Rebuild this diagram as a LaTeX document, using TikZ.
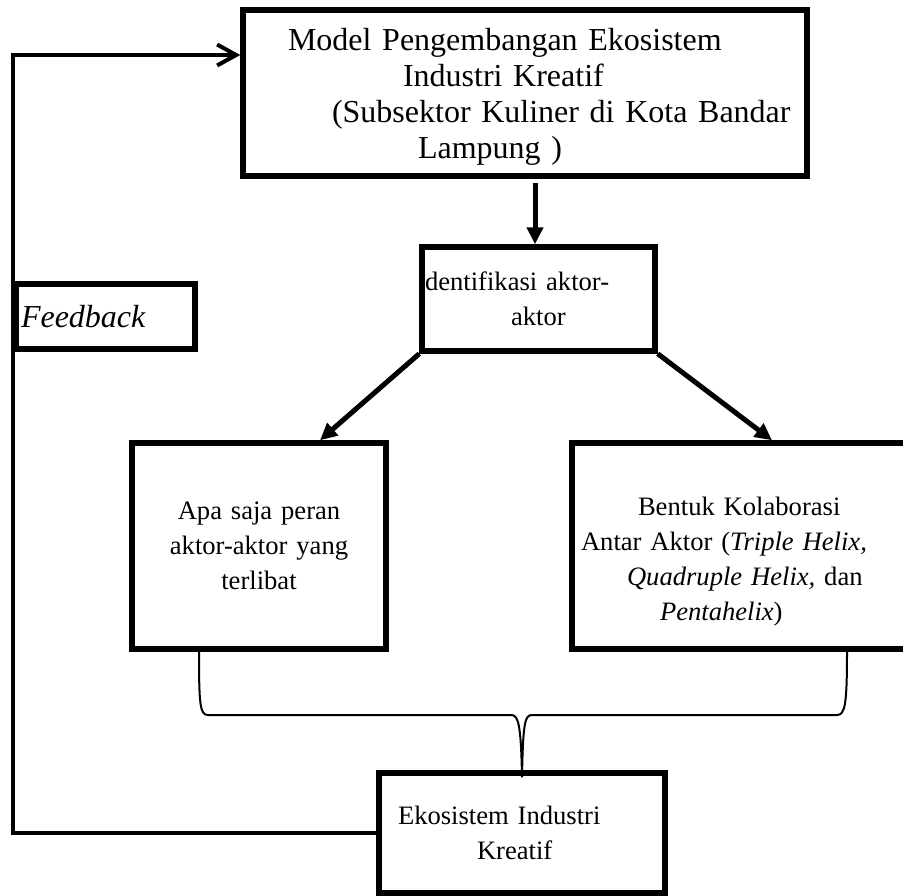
\documentclass[tikz,border=0pt]{standalone}
\usepackage{fontspec}
\setmainfont{Liberation Serif}
\usetikzlibrary{arrows,arrows.meta,positioning,calc}

\begin{document}
\begin{tikzpicture}[
    x=1pt, y=-1pt,
    boxnode/.style={rectangle, draw=black, line width=5.5pt, inner xsep=0pt, inner ysep=0pt, align=left, font=\fontsize{26.6}{35}\selectfont},
    titlenode/.style={boxnode, font=\fontsize{32}{36}\selectfont},
    arrowline/.style={line width=5pt, -{Triangle[length=17pt,width=16pt]}},
    fbline/.style={line width=4pt, -{Straight Barb[length=19pt,width=21pt]}},
    braceline/.style={line width=2pt},
    ]
    \useasboundingbox (0,0) rectangle (903,895);

    %Nodes
    \node[titlenode, minimum width=564pt, minimum height=166pt, text width=560pt, text height=30pt] (model) at (525,93)
        {\hspace*{43pt}Model Pengembangan Ekosistem\\ \hspace*{158pt}Industri Kreatif\\ \hspace*{87pt}(Subsektor Kuliner di Kota Bandar\\ \hspace*{173pt}Lampung )};
    \node[boxnode, minimum width=233pt, minimum height=104pt, text width=229pt] (ident) at (538.5,299)
        {\hspace*{1pt}dentifikasi aktor-\\ \hspace*{87pt}aktor};
    \node[titlenode, minimum width=179pt, minimum height=65pt, text width=175pt] (feedback) at (105.5,316.5)
        {\hspace*{3pt}\textit{Feedback}};
    \node[boxnode, align=center, minimum width=254pt, minimum height=206pt, text width=250pt] (peran) at (259,546)
        {Apa saja peran\\aktor-aktor yang\\terlibat};
    \node[boxnode, minimum width=336pt, minimum height=206pt, text width=332pt, text height=50pt] (kolab) at (740,546)
        {\hspace*{64pt}Bentuk Kolaborasi\\ \hspace*{7pt}Antar Aktor (\textit{Triple Helix,}\\ \hspace*{53pt}\textit{Quadruple Helix,} dan\\ \hspace*{86pt}\textit{Pentahelix})};
    \node[boxnode, minimum width=286pt, minimum height=120pt, text width=282pt] (eko) at (522,833)
        {\hspace*{17pt}Ekosistem Industri\\ \hspace*{96pt}Kreatif};

    % Points of the brace and the feedback loop
    \coordinate (arrtop) at ([xshift=10pt,yshift=-4pt]model.south);
    \coordinate (braceL) at ([xshift=-60pt]peran.south);
    \coordinate (braceR) at ([xshift=107pt]kolab.south);
    \coordinate (braceT) at ([yshift=-7pt]eko.north);
    \coordinate (fbturn) at (13,55);

    %Lines
    \draw[arrowline] (arrtop) -- (arrtop |- ident.north);
    \draw[arrowline] (ident.south west) -- ([xshift=61pt]peran.north);
    \draw[arrowline] (ident.south east) -- ([xshift=32pt]kolab.north);
    \draw[braceline] (braceL) .. controls (199,705) and (200,715) .. (208,715)
        -- (511,715) .. controls (518,715) and (521,722) .. (braceT)
        .. controls (523,722) and (525,715) .. (532,715)
        -- (837,715) .. controls (845,715) and (847,705) .. (braceR);
    \draw[fbline] (eko.west) -| (fbturn) -- (fbturn -| model.west);
\end{tikzpicture}
\end{document}
